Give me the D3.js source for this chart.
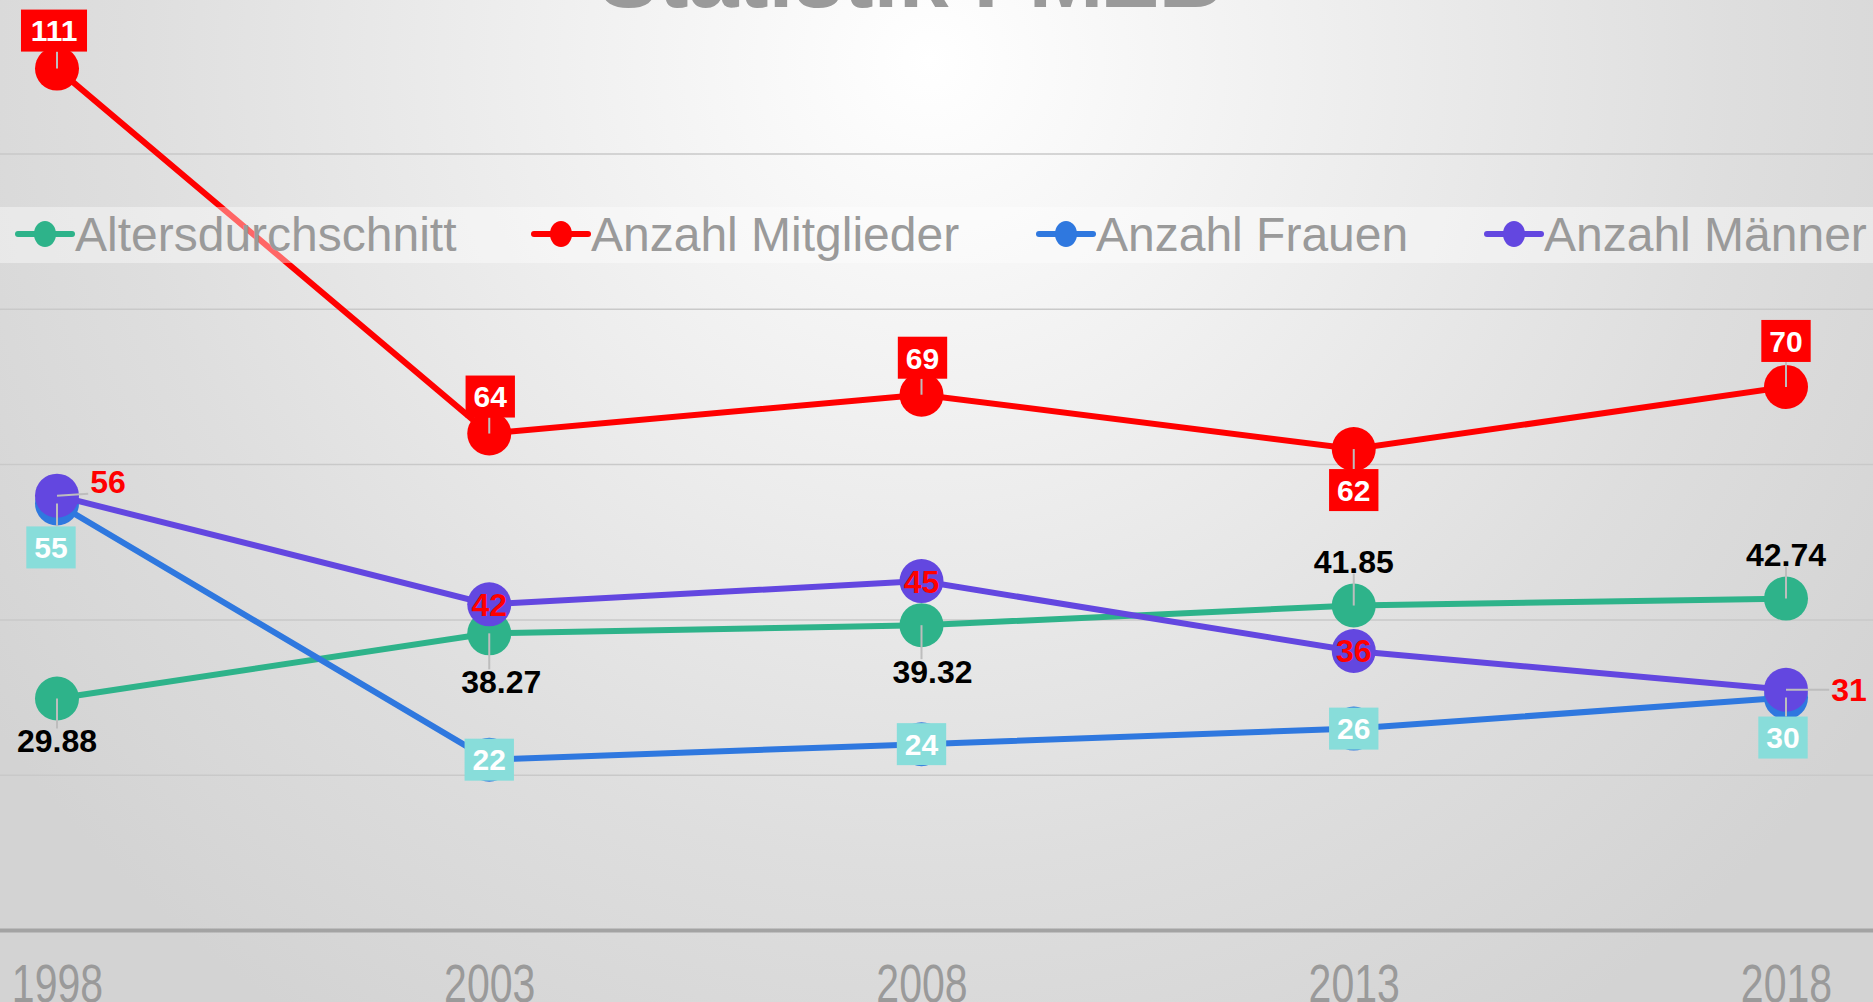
<!DOCTYPE html>
<html>
<head>
<meta charset="utf-8">
<script src="https://cdn.jsdelivr.net/npm/d3@7"></script>
<style>
  html, body { margin: 0; padding: 0; overflow: hidden; }
  svg { display: block; font-family: "Liberation Sans", Arial, sans-serif; }
</style>
</head>
<body>
<svg id="chart"></svg>
<script>
const years = ["1998", "2003", "2008", "2013", "2018"]
const alter = [29.88, 38.27, 39.32, 41.85, 42.74]
const mitglieder = [111, 64, 69, 62, 70]
const frauen = [55, 22, 24, 26, 30]
const maenner = [56, 42, 45, 36, 31]
const seriesNames = ["Altersdurchschnitt", "Anzahl Mitglieder", "Anzahl Frauen", "Anzahl Männer"]
const gridTicks = [20, 40, 60, 80, 100, 120]

// label placement (offset from point center), per series
const placeAlter = [[0, 42], [12, 48], [11, 46], [0, -44], [0, -44]]
const placeMitgl = [[-3, -38], [1, -37], [1, -37], [0, 41], [0, -46]]
const placeFrauen = [[-6, 44], [0, 0], [0, 0], [0, 0], [-3, 40]]
const placeMaenner = [[51, -14], [0, 0], [0, 0], [0, 0], [63, 0]]

const width = 1873, height = 1002
const svg = d3.select("#chart").attr("width", width).attr("height", height)

const defs = svg.append("defs")
const grad = defs.append("radialGradient").attr("id", "bg")
  .attr("gradientUnits", "userSpaceOnUse")
  .attr("cx", 930).attr("cy", 60).attr("r", 1150)
grad.append("stop").attr("offset", 0).attr("stop-color", "#ffffff")
grad.append("stop").attr("offset", 0.7).attr("stop-color", "#dedede")
grad.append("stop").attr("offset", 1).attr("stop-color", "#d3d3d3")
svg.append("rect").attr("width", width).attr("height", height).attr("fill", "url(#bg)")

const x = d3.scalePoint().domain(years).range([57, 1786])
const y = d3.scaleLinear().domain([0, 120]).range([930.5, -1.3])

// gridlines
svg.append("g").selectAll("line").data(gridTicks).join("line")
  .attr("x1", 0).attr("x2", width)
  .attr("y1", d => y(d)).attr("y2", d => y(d))
  .attr("stroke", "#c9c9c9").attr("stroke-width", 1.5)

// title (cut off at top, as in the original)
svg.append("text").attr("x", 911).attr("y", 7)
  .attr("text-anchor", "middle").attr("font-size", 90).attr("font-weight", "bold")
  .attr("fill", "#9a9a9a").text("Statistik FMZB")

// x axis
const xAxis = d3.axisBottom(x).tickSize(0).tickSizeOuter(0)
const gx = svg.append("g").attr("transform", "translate(0," + y(0) + ")").call(xAxis)
gx.select(".domain").remove()
gx.append("line").attr("x1", 0).attr("x2", width).attr("stroke", "#a3a3a3").attr("stroke-width", 4)
gx.selectAll(".tick text")
  .attr("y", 72).attr("dy", null)
  .attr("transform", "scale(0.76,1)")
  .attr("font-size", 54).attr("fill", "#9a9a9a")
  .attr("font-family", "'Liberation Sans', Arial, sans-serif")

const series = [
  { name: seriesNames[0], values: alter, color: "#2eb38a", place: placeAlter, text: "#000000", box: null },
  { name: seriesNames[1], values: mitglieder, color: "#ff0000", place: placeMitgl, text: "#ffffff", box: "#ff0000" },
  { name: seriesNames[2], values: frauen, color: "#2f78df", place: placeFrauen, text: "#ffffff", box: "#88ddda" },
  { name: seriesNames[3], values: maenner, color: "#6347e0", place: placeMaenner, text: "#ff0000", box: null }
]

const line = d3.line().x((d, i) => x(years[i])).y(d => y(d))

const plot = svg.append("g")
series.forEach(s => {
  const g = plot.append("g")
  g.append("path").datum(s.values).attr("d", line)
    .attr("fill", "none").attr("stroke", s.color).attr("stroke-width", 6)
  g.selectAll("circle").data(s.values).join("circle")
    .attr("cx", (d, i) => x(years[i])).attr("cy", d => y(d))
    .attr("r", 22).attr("fill", s.color)
})

// legend band + entries (drawn above lines)
const legend = svg.append("g")
legend.append("rect").attr("x", 0).attr("y", 207).attr("width", width).attr("height", 56)
  .attr("fill", "#ffffff").attr("opacity", 0.4)
const legendX = [18, 534, 1039, 1487]
series.forEach((s, i) => {
  const lg = legend.append("g").attr("transform", "translate(" + legendX[i] + ",234)")
  lg.append("line").attr("x1", 0).attr("x2", 54).attr("stroke", s.color)
    .attr("stroke-width", 6).attr("stroke-linecap", "round")
  lg.append("ellipse").attr("cx", 27).attr("rx", 11).attr("ry", 13).attr("fill", s.color)
  lg.append("text").attr("x", 57).attr("y", 17).attr("font-size", 48)
    .attr("fill", "#9a9a9a").text(s.name)
})

// data labels
const labels = svg.append("g")
const fmt = v => String(v)
series.forEach(s => {
  s.values.forEach((v, i) => {
    const px = x(years[i]), py = y(v)
    const [dx, dy] = s.place[i]
    const cx = px + dx, cy = py + dy
    const txt = fmt(v)
    const fs = s.box ? 30 : 32
    const tw = txt.replace(".", "").length * 0.556 * fs + (txt.includes(".") ? 0.278 * fs : 0)
    const hw = tw / 2 + (s.box ? 8 : 2), hh = s.box ? 21 : 12
    if (dx !== 0 || dy !== 0) {
      const ex = Math.max(cx - hw, Math.min(px, cx + hw))
      const ey = Math.max(cy - hh, Math.min(py, cy + hh))
      labels.append("line").attr("x1", px).attr("y1", py).attr("x2", ex).attr("y2", ey)
        .attr("stroke", "#bdbdbd").attr("stroke-width", 2)
    }
    if (s.box) {
      labels.append("rect").attr("x", cx - hw).attr("y", cy - hh)
        .attr("width", hw * 2).attr("height", hh * 2).attr("fill", s.box)
    }
    labels.append("text").attr("x", cx).attr("y", cy + fs * 0.36)
      .attr("text-anchor", "middle").attr("font-size", fs).attr("font-weight", "bold")
      .attr("fill", s.text).text(txt)
  })
})
</script>
</body>
</html>
